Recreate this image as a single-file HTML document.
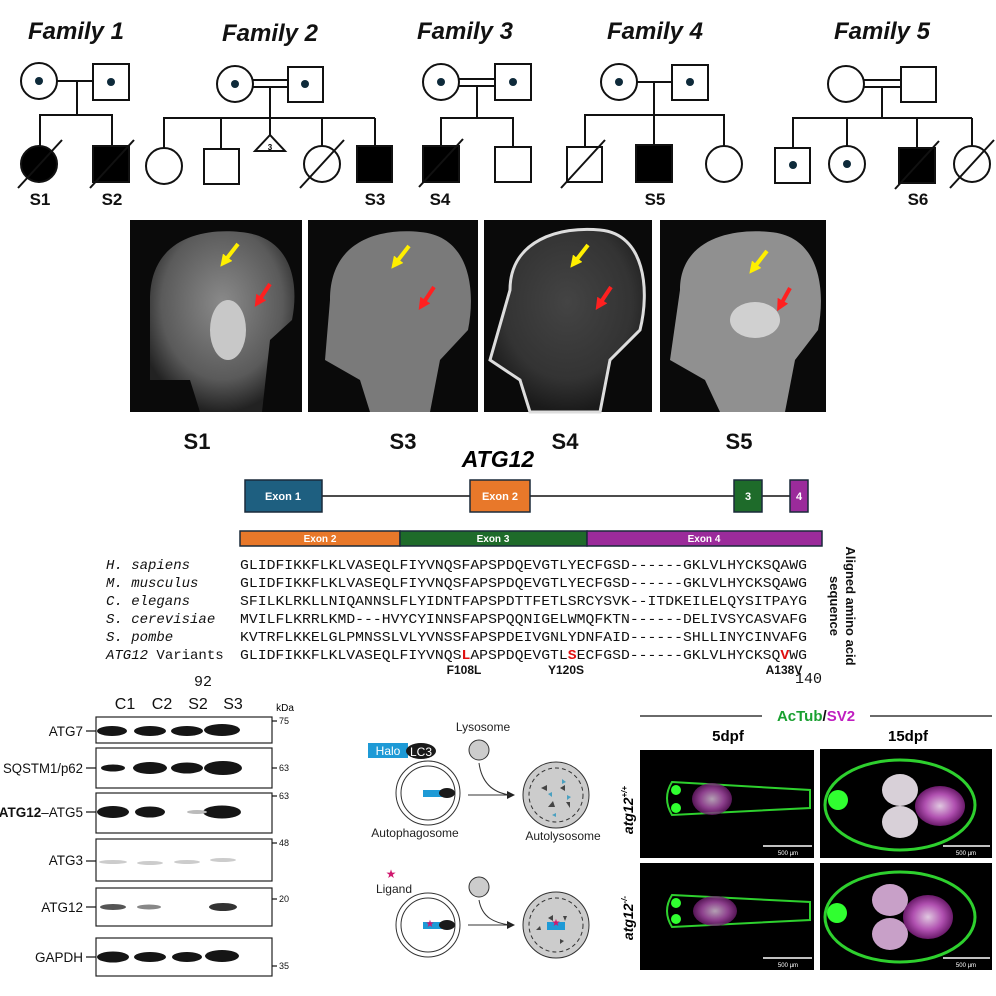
<!DOCTYPE html>
<html><head><meta charset="utf-8"><style>
html,body{margin:0;padding:0;background:#fff;}
svg{display:block;font-family:"Liberation Sans",Arial,sans-serif;}
</style></head><body>
<svg width="996" height="996" viewBox="0 0 996 996" xmlns="http://www.w3.org/2000/svg">
<defs>
<radialGradient id="head" cx="50%" cy="40%" r="60%"><stop offset="0" stop-color="#8a8a8a"/><stop offset="0.7" stop-color="#5a5a5a"/><stop offset="1" stop-color="#222"/></radialGradient>
<radialGradient id="head2" cx="50%" cy="40%" r="60%"><stop offset="0" stop-color="#444"/><stop offset="0.7" stop-color="#333"/><stop offset="1" stop-color="#1a1a1a"/></radialGradient>
<radialGradient id="mag" cx="50%" cy="50%" r="50%"><stop offset="0" stop-color="#e0c8e0"/><stop offset="0.6" stop-color="#b050b0"/><stop offset="1" stop-color="#6a1a6a"/></radialGradient>
<marker id="ah" markerWidth="8" markerHeight="8" refX="7" refY="4" orient="auto"><path d="M0,0 L8,4 L0,8 z" fill="#222"/></marker>
<marker id="my" markerUnits="userSpaceOnUse" markerWidth="12" markerHeight="12" refX="6" refY="6" orient="auto"><path d="M0,0 L12,6 L0,12 z" fill="#ffef00"/></marker>
<marker id="mr" markerUnits="userSpaceOnUse" markerWidth="12" markerHeight="12" refX="6" refY="6" orient="auto"><path d="M0,0 L12,6 L0,12 z" fill="#ff2020"/></marker>
</defs>

<!-- Family titles -->
<g font-weight="bold" font-style="italic" font-size="24" text-anchor="middle" fill="#111">
<text x="76" y="39">Family 1</text>
<text x="270" y="41">Family 2</text>
<text x="465" y="39">Family 3</text>
<text x="655" y="39">Family 4</text>
<text x="882" y="39">Family 5</text>
</g>

<g stroke="#111" stroke-width="2" fill="#fff">
<line x1="57" y1="81" x2="93" y2="81"/><line x1="77" y1="81" x2="77" y2="115"/>
<polyline points="40,146 40,115 112,115 112,146" fill="none"/>
<circle cx="39" cy="81" r="18"/><rect x="93" y="64" width="36" height="36"/>
<circle cx="39" cy="164" r="18" fill="#000"/><rect x="93" y="146" width="36" height="36" fill="#000"/>
<line x1="18" y1="188" x2="62" y2="140"/><line x1="90" y1="188" x2="134" y2="140"/>
<line x1="253" y1="80" x2="288" y2="80"/><line x1="253" y1="87" x2="288" y2="87"/>
<line x1="270" y1="87" x2="270" y2="135"/>
<line x1="163" y1="118" x2="375" y2="118"/>
<line x1="164" y1="118" x2="164" y2="148"/><line x1="221" y1="118" x2="221" y2="149"/>
<line x1="322" y1="118" x2="322" y2="146"/><line x1="375" y1="118" x2="375" y2="146"/>
<circle cx="235" cy="84" r="18"/><rect x="288" y="67" width="35" height="35"/>
<circle cx="164" cy="166" r="18"/><rect x="204" y="149" width="35" height="35"/>
<polygon points="270,135 255,151 285,151"/>
<circle cx="322" cy="164" r="18"/><line x1="300" y1="188" x2="344" y2="140"/>
<rect x="357" y="146" width="35" height="36" fill="#000"/>
<line x1="459" y1="79" x2="495" y2="79"/><line x1="459" y1="86" x2="495" y2="86"/>
<line x1="477" y1="86" x2="477" y2="118"/>
<polyline points="441,146 441,118 513,118 513,147" fill="none"/>
<circle cx="441" cy="82" r="18"/><rect x="495" y="64" width="36" height="36"/>
<rect x="423" y="146" width="36" height="36" fill="#000"/><line x1="419" y1="187" x2="463" y2="139"/>
<rect x="495" y="147" width="36" height="35"/>
<line x1="637" y1="82" x2="672" y2="82"/><line x1="654" y1="82" x2="654" y2="145"/>
<polyline points="585,147 585,115 724,115 724,146" fill="none"/>
<circle cx="619" cy="82" r="18"/><rect x="672" y="65" width="36" height="35"/>
<rect x="567" y="147" width="35" height="35"/><line x1="561" y1="188" x2="605" y2="140"/>
<rect x="636" y="145" width="36" height="37" fill="#000"/>
<circle cx="724" cy="164" r="18"/>
<line x1="864" y1="80" x2="901" y2="80"/><line x1="864" y1="87" x2="901" y2="87"/>
<line x1="882" y1="87" x2="882" y2="118"/>
<line x1="792" y1="118" x2="972" y2="118"/>
<line x1="793" y1="118" x2="793" y2="148"/><line x1="847" y1="118" x2="847" y2="146"/>
<line x1="917" y1="118" x2="917" y2="148"/><line x1="972" y1="118" x2="972" y2="146"/>
<circle cx="846" cy="84" r="18"/><rect x="901" y="67" width="35" height="35"/>
<rect x="775" y="148" width="35" height="35"/><circle cx="847" cy="164" r="18"/>
<rect x="899" y="148" width="36" height="35" fill="#000"/><line x1="895" y1="189" x2="939" y2="141"/>
<circle cx="972" cy="164" r="18"/><line x1="950" y1="188" x2="994" y2="140"/>
</g>
<g fill="#0e2a3a">
<circle cx="39" cy="81" r="4"/><circle cx="111" cy="82" r="4"/>
<circle cx="235" cy="84" r="4"/><circle cx="305" cy="84" r="4"/>
<circle cx="441" cy="82" r="4"/><circle cx="513" cy="82" r="4"/>
<circle cx="619" cy="82" r="4"/><circle cx="690" cy="82" r="4"/>
<circle cx="793" cy="165" r="4"/><circle cx="847" cy="164" r="4"/>
</g>
<text x="270" y="150" font-size="8" font-weight="bold" text-anchor="middle">3</text>
<g font-weight="bold" font-size="17" text-anchor="middle" fill="#111">
<text x="40" y="205">S1</text><text x="112" y="205">S2</text><text x="375" y="205">S3</text>
<text x="440" y="205">S4</text><text x="655" y="205">S5</text><text x="918" y="205">S6</text>
</g>

<!-- MRI panels -->
<g>
<rect x="130" y="220" width="172" height="192" fill="#0a0a0a"/>
<path d="M150,300 C150,240 200,228 240,232 C290,236 300,280 292,320 L270,340 L262,412 L200,412 L190,380 L150,380 Z" fill="url(#head)"/>
<ellipse cx="228" cy="330" rx="18" ry="30" fill="#c8c8c8"/>
<rect x="308" y="220" width="170" height="192" fill="#0a0a0a"/>
<path d="M330,300 C330,240 380,228 420,232 C470,236 476,290 468,330 L440,360 L430,412 L370,412 L360,380 L325,360 Z" fill="#7a7a7a"/>
<rect x="484" y="220" width="168" height="192" fill="#0a0a0a"/>
<path d="M510,290 C510,240 560,226 600,230 C645,234 650,290 640,330 L610,360 L600,412 L530,412 L520,380 L490,360 Z" fill="url(#head2)" stroke="#ddd" stroke-width="3"/>
<rect x="660" y="220" width="166" height="192" fill="#0a0a0a"/>
<path d="M680,290 C680,240 730,228 770,232 C820,236 826,290 818,330 L795,360 L785,412 L720,412 L705,380 L670,360 Z" fill="#909090"/>
<ellipse cx="755" cy="320" rx="25" ry="18" fill="#d0d0d0"/>
</g>
<g stroke-width="4" fill="none">
<line x1="238" y1="244" x2="224" y2="262" stroke="#ffef00" marker-end="url(#my)"/>
<line x1="270" y1="284" x2="258" y2="302" stroke="#ff2020" marker-end="url(#mr)"/>
<line x1="409" y1="246" x2="395" y2="264" stroke="#ffef00" marker-end="url(#my)"/>
<line x1="434" y1="287" x2="422" y2="305" stroke="#ff2020" marker-end="url(#mr)"/>
<line x1="588" y1="245" x2="574" y2="263" stroke="#ffef00" marker-end="url(#my)"/>
<line x1="611" y1="287" x2="599" y2="305" stroke="#ff2020" marker-end="url(#mr)"/>
<line x1="767" y1="251" x2="753" y2="269" stroke="#ffef00" marker-end="url(#my)"/>
<line x1="790" y1="288" x2="780" y2="306" stroke="#ff2020" marker-end="url(#mr)"/>
</g>
<g font-weight="bold" font-size="22" text-anchor="middle" fill="#111">
<text x="197" y="449">S1</text><text x="403" y="449">S3</text><text x="565" y="449">S4</text><text x="739" y="449">S5</text>
</g>
<text x="498" y="467" font-weight="bold" font-style="italic" font-size="23" text-anchor="middle">ATG12</text>

<!-- gene structure -->
<line x1="245" y1="496" x2="808" y2="496" stroke="#111" stroke-width="1.5"/>
<g stroke="#1a2a3a" stroke-width="1.5">
<rect x="245" y="480" width="77" height="32" fill="#1e5f80"/>
<rect x="470" y="480" width="60" height="32" fill="#e8782a"/>
<rect x="734" y="480" width="28" height="32" fill="#1e6b2a"/>
<rect x="790" y="480" width="18" height="32" fill="#9b2b9b"/>
</g>
<g font-size="11" font-weight="bold" fill="#fff" text-anchor="middle">
<text x="283" y="500">Exon 1</text><text x="500" y="500">Exon 2</text><text x="748" y="500">3</text><text x="799" y="500">4</text>
</g>
<g stroke="#1a2a3a" stroke-width="1.5">
<rect x="240" y="531" width="160" height="15" fill="#e8782a"/>
<rect x="400" y="531" width="187" height="15" fill="#1e6b2a"/>
<rect x="587" y="531" width="235" height="15" fill="#9b2b9b"/>
</g>
<g font-size="10" font-weight="bold" fill="#fff" text-anchor="middle">
<text x="320" y="542">Exon 2</text><text x="493" y="542">Exon 3</text><text x="704" y="542">Exon 4</text>
</g>

<!-- alignment -->
<g font-family="'Liberation Mono',monospace" font-size="14" fill="#111">
<g font-style="italic">
<text x="106" y="569">H. sapiens</text>
<text x="106" y="587">M. musculus</text>
<text x="106" y="605">C. elegans</text>
<text x="106" y="623">S. cerevisiae</text>
<text x="106" y="641">S. pombe</text>
<text x="106" y="659"><tspan>ATG12</tspan><tspan font-style="normal"> Variants</tspan></text>
</g>
<text x="240" y="569" textLength="567" lengthAdjust="spacingAndGlyphs">GLIDFIKKFLKLVASEQLFIYVNQSFAPSPDQEVGTLYECFGSD------GKLVLHYCKSQAWG</text>
<text x="240" y="587" textLength="567" lengthAdjust="spacingAndGlyphs">GLIDFIKKFLKLVASEQLFIYVNQSFAPSPDQEVGTLYECFGSD------GKLVLHYCKSQAWG</text>
<text x="240" y="605" textLength="567" lengthAdjust="spacingAndGlyphs">SFILKLRKLLNIQANNSLFLYIDNTFAPSPDTTFETLSRCYSVK--ITDKEILELQYSITPAYG</text>
<text x="240" y="623" textLength="567" lengthAdjust="spacingAndGlyphs">MVILFLKRRLKMD---HVYCYINNSFAPSPQQNIGELWMQFKTN------DELIVSYCASVAFG</text>
<text x="240" y="641" textLength="567" lengthAdjust="spacingAndGlyphs">KVTRFLKKELGLPMNSSLVLYVNSSFAPSPDEIVGNLYDNFAID------SHLLINYCINVAFG</text>
<text x="240" y="659" textLength="567" lengthAdjust="spacingAndGlyphs">GLIDFIKKFLKLVASEQLFIYVNQS<tspan fill="#e01010" font-weight="bold">L</tspan>APSPDQEVGTL<tspan fill="#e01010" font-weight="bold">S</tspan>ECFGSD------GKLVLHYCKSQ<tspan fill="#e01010" font-weight="bold">V</tspan>WG</text>
<text x="795" y="683" font-size="15">140</text>
<text x="194" y="686" font-size="15">92</text>
</g>
<g font-size="12" font-weight="bold" text-anchor="middle" fill="#111">
<text x="464" y="674">F108L</text><text x="566" y="674">Y120S</text><text x="784" y="674">A138V</text>
</g>
<g font-size="13" font-weight="bold" fill="#111" text-anchor="middle">
<text transform="translate(846,606) rotate(90)">Aligned amino acid</text>
<text transform="translate(830,606) rotate(90)">sequence</text>
</g>

<!-- western blot -->
<g font-size="16" text-anchor="middle" fill="#111">
<text x="125" y="709">C1</text><text x="162" y="709">C2</text><text x="198" y="709">S2</text><text x="233" y="709">S3</text>
</g>
<text x="285" y="711" font-size="10" text-anchor="middle">kDa</text>
<g stroke="#222" stroke-width="1.2" fill="#fff">
<rect x="96" y="717" width="176" height="26"/>
<rect x="96" y="748" width="176" height="40"/>
<rect x="96" y="793" width="176" height="40"/>
<rect x="96" y="839" width="176" height="42"/>
<rect x="96" y="888" width="176" height="38"/>
<rect x="96" y="938" width="176" height="38"/>
</g>
<g fill="#151515">
<ellipse cx="112" cy="731" rx="15" ry="5"/><ellipse cx="150" cy="731" rx="16" ry="5"/><ellipse cx="187" cy="731" rx="16" ry="5"/><ellipse cx="222" cy="730" rx="18" ry="6"/>
<ellipse cx="113" cy="768" rx="12" ry="3.5"/><ellipse cx="150" cy="768" rx="17" ry="6"/><ellipse cx="187" cy="768" rx="16" ry="5.5"/><ellipse cx="223" cy="768" rx="19" ry="7"/>
<ellipse cx="113" cy="812" rx="16" ry="6"/><ellipse cx="150" cy="812" rx="15" ry="5.5"/><ellipse cx="222" cy="812" rx="19" ry="6.5"/>
<ellipse cx="113" cy="907" rx="13" ry="3" fill="#555"/><ellipse cx="149" cy="907" rx="12" ry="2.5" fill="#888"/><ellipse cx="223" cy="907" rx="14" ry="4" fill="#333"/>
<ellipse cx="113" cy="957" rx="16" ry="5.5"/><ellipse cx="150" cy="957" rx="16" ry="5"/><ellipse cx="187" cy="957" rx="15" ry="5"/><ellipse cx="222" cy="956" rx="17" ry="6"/>
</g>
<ellipse cx="197" cy="812" rx="10" ry="2" fill="#bbb"/>
<g fill="#ccc"><ellipse cx="113" cy="862" rx="14" ry="2"/><ellipse cx="150" cy="863" rx="13" ry="2"/><ellipse cx="187" cy="862" rx="13" ry="2"/><ellipse cx="223" cy="860" rx="13" ry="2"/></g>
<g font-size="13.5" text-anchor="end" fill="#111">
<text x="83" y="736">ATG7</text>
<text x="83" y="773" textLength="80" lengthAdjust="spacingAndGlyphs">SQSTM1/p62</text>
<text x="83" y="817"><tspan font-weight="bold">ATG12</tspan>–ATG5</text>
<text x="83" y="865">ATG3</text>
<text x="83" y="912">ATG12</text>
<text x="83" y="962">GAPDH</text>
</g>
<g stroke="#111" stroke-width="1.2">
<line x1="86" y1="731" x2="96" y2="731"/><line x1="86" y1="768" x2="96" y2="768"/><line x1="86" y1="812" x2="96" y2="812"/>
<line x1="86" y1="861" x2="96" y2="861"/><line x1="86" y1="907" x2="96" y2="907"/><line x1="86" y1="957" x2="96" y2="957"/>
<line x1="272" y1="721" x2="277" y2="721"/><line x1="272" y1="768" x2="277" y2="768"/><line x1="272" y1="796" x2="277" y2="796"/>
<line x1="272" y1="843" x2="277" y2="843"/><line x1="272" y1="899" x2="277" y2="899"/><line x1="272" y1="966" x2="277" y2="966"/>
</g>
<g font-size="9" fill="#111">
<text x="279" y="724">75</text><text x="279" y="771">63</text><text x="279" y="799">63</text><text x="279" y="846">48</text><text x="279" y="902">20</text><text x="279" y="969">35</text>
</g>

<!-- schematic -->
<rect x="368" y="743" width="40" height="15" fill="#1e9ad6"/>
<text x="388" y="755" font-size="12" fill="#fff" text-anchor="middle">Halo</text>
<ellipse cx="421" cy="751" rx="15" ry="8" fill="#1a1a1a"/>
<text x="421" y="756" font-size="12" fill="#fff" text-anchor="middle">LC3</text>
<text x="483" y="731" font-size="12" text-anchor="middle" fill="#222">Lysosome</text>
<g stroke="#333" stroke-width="1">
<circle cx="428" cy="793" r="32" fill="#fff"/><circle cx="428" cy="793" r="27" fill="#fff"/>
<circle cx="479" cy="750" r="10" fill="#ccc"/>
<circle cx="556" cy="795" r="33" fill="#ccc"/>
<circle cx="556" cy="795" r="27" fill="none" stroke-dasharray="4,3"/>
<circle cx="428" cy="925" r="32" fill="#fff"/><circle cx="428" cy="925" r="27" fill="#fff"/>
<circle cx="479" cy="887" r="10" fill="#ccc"/>
<circle cx="556" cy="925" r="33" fill="#ccc"/>
<circle cx="556" cy="925" r="27" fill="none" stroke-dasharray="4,3"/>
<line x1="468" y1="795" x2="514" y2="795" marker-end="url(#ah)"/>
<path d="M479,763 C482,785 495,793 510,795" fill="none"/>
<line x1="468" y1="925" x2="514" y2="925" marker-end="url(#ah)"/>
<path d="M479,900 C482,918 495,923 510,925" fill="none"/>
</g>
<rect x="423" y="790" width="19" height="7" fill="#1e9ad6"/><ellipse cx="447" cy="793" rx="8" ry="5" fill="#1a1a1a"/>
<rect x="423" y="922" width="19" height="7" fill="#1e9ad6"/><ellipse cx="447" cy="925" rx="8" ry="5" fill="#1a1a1a"/>
<rect x="547" y="922" width="18" height="8" fill="#1e9ad6"/>
<g fill="#d0186e" font-size="12" text-anchor="middle"><text x="391" y="878">★</text><text x="430" y="927" font-size="10">★</text><text x="556" y="926" font-size="10">★</text></g>
<g fill="#444"><path d="M541,788 l6,-3 v6z"/><path d="M565,785 l-5,3 5,3z"/><path d="M548,807 l5,-6 2,6z"/><path d="M570,808 l-4,-6 4,0z"/><path d="M548,918 l5,-3 v6z"/><path d="M567,916 l-4,0 2,5z"/><path d="M560,939 l4,2 -4,3z"/><path d="M536,930 l4,-4 1,4z"/></g>
<g fill="#4aa0c0"><path d="M562,779 l4,3 -4,2z"/><path d="M552,792 l-4,2 4,3z"/><path d="M571,797 l-4,3 0,-5z"/><path d="M556,813 l-4,2 4,2z"/></g>
<text x="415" y="837" font-size="12" text-anchor="middle" fill="#222">Autophagosome</text>
<text x="563" y="840" font-size="12" text-anchor="middle" fill="#222">Autolysosome</text>
<text x="394" y="893" font-size="12" text-anchor="middle" fill="#222">Ligand</text>

<!-- zebrafish -->
<line x1="640" y1="716" x2="762" y2="716" stroke="#111" stroke-width="1.2"/>
<line x1="870" y1="716" x2="992" y2="716" stroke="#111" stroke-width="1.2"/>
<text x="816" y="721" font-size="15" font-weight="bold" text-anchor="middle"><tspan fill="#19a030">AcTub</tspan><tspan fill="#111">/</tspan><tspan fill="#c01ec0">SV2</tspan></text>
<text x="728" y="741" font-size="15" font-weight="bold" text-anchor="middle">5dpf</text>
<text x="908" y="741" font-size="15" font-weight="bold" text-anchor="middle">15dpf</text>
<g font-size="14" font-weight="bold" font-style="italic" text-anchor="middle">
<text transform="translate(633,810) rotate(-90)">atg12<tspan font-size="8" dy="-6">+/+</tspan></text>
<text transform="translate(633,918) rotate(-90)">atg12<tspan font-size="8" dy="-6">-/-</tspan></text>
</g>
<rect x="640" y="750" width="174" height="108" fill="#000"/>
<rect x="820" y="749" width="172" height="109" fill="#000"/>
<rect x="640" y="863" width="174" height="107" fill="#000"/>
<rect x="820" y="863" width="172" height="107" fill="#000"/>
<g>
<path d="M672,782 L810,790 L810,808 L672,815 Q662,798 672,782Z" fill="none" stroke="#2ed02e" stroke-width="2"/>
<ellipse cx="712" cy="799" rx="20" ry="16" fill="url(#mag)" opacity="0.8"/>
<circle cx="676" cy="790" r="5" fill="#30ff30"/><circle cx="676" cy="808" r="5" fill="#30ff30"/>
<path d="M672,895 L810,902 L810,920 L672,927 Q662,911 672,895Z" fill="none" stroke="#2ed02e" stroke-width="2"/>
<ellipse cx="715" cy="911" rx="22" ry="15" fill="url(#mag)" opacity="0.8"/>
<circle cx="676" cy="903" r="5" fill="#30ff30"/><circle cx="676" cy="919" r="5" fill="#30ff30"/>
<ellipse cx="900" cy="805" rx="75" ry="45" fill="none" stroke="#2ed02e" stroke-width="3"/>
<ellipse cx="900" cy="790" rx="18" ry="16" fill="#d8d0d8"/><ellipse cx="900" cy="822" rx="18" ry="16" fill="#d8d0d8"/>
<ellipse cx="940" cy="806" rx="25" ry="20" fill="url(#mag)"/>
<circle cx="838" cy="800" r="10" fill="#30ff30"/>
<ellipse cx="900" cy="917" rx="75" ry="45" fill="none" stroke="#2ed02e" stroke-width="3"/>
<ellipse cx="890" cy="900" rx="18" ry="16" fill="#c8a0c8"/><ellipse cx="890" cy="934" rx="18" ry="16" fill="#c8a0c8"/>
<ellipse cx="928" cy="917" rx="25" ry="22" fill="url(#mag)"/>
<circle cx="837" cy="913" r="10" fill="#30ff30"/>
</g>
<g stroke="#fff" stroke-width="1.5"><line x1="763" y1="846" x2="812" y2="846"/><line x1="943" y1="846" x2="990" y2="846"/><line x1="763" y1="958" x2="812" y2="958"/><line x1="943" y1="958" x2="990" y2="958"/></g>
<g font-size="6" fill="#fff" text-anchor="middle"><text x="788" y="855">500 µm</text><text x="966" y="855">500 µm</text><text x="788" y="967">500 µm</text><text x="966" y="967">500 µm</text></g>
</svg>
</body></html>
